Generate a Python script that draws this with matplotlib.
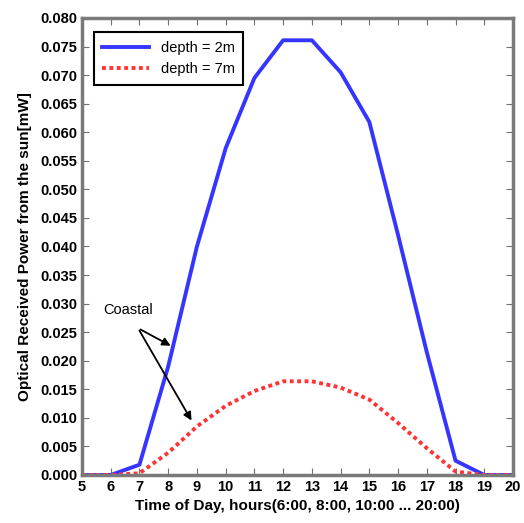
import matplotlib
matplotlib.use('Agg')
import matplotlib.pyplot as plt

# hours of the day and received power (mW) at two depths
hours = [5, 6, 7, 8, 9, 10, 11, 12, 13, 14, 15, 16, 17, 18, 19, 20]
power_2m = [0, 0, 0.0018, 0.019, 0.040, 0.0572, 0.0695, 0.0761, 0.0761,
            0.0705, 0.0618, 0.042, 0.0215, 0.0025, 0, 0]
power_7m = [0, 0, 0.0003, 0.0039, 0.0085, 0.0121, 0.0147, 0.0164, 0.0164,
            0.0153, 0.0132, 0.0091, 0.0047, 0.0006, 0, 0]

yticks = [i * 0.005 for i in range(17)]
xticks = list(range(5, 21))

plt.rcParams['font.family'] = ['Liberation Sans', 'DejaVu Sans']
plt.rcParams['font.weight'] = 'bold'

fig = plt.figure(figsize=(5.24, 5.23), dpi=100)
ax = fig.add_axes([0.1565, 0.0918, 0.8225, 0.8738])

ax.plot(hours, power_2m, color='#3535ff', lw=2.8, label='depth = 2m')
ax.plot(hours, power_7m, color='#ff3535', lw=2.8, ls=(0, (1.0, 0.9)),
        label='depth = 7m')

ax.set_xlim(5, 20)
ax.set_ylim(0, 0.08)
ax.set_xticks(xticks)
ax.set_yticks(yticks)
ax.set_yticklabels(['%.3f' % v for v in yticks])
ax.tick_params(direction='in', top=True, right=True, length=5,
               color='#707070', labelsize=10.5)
for s in ax.spines.values():
    s.set_color('#7a7a7a')
    s.set_linewidth(2.5)

ax.set_xlabel('Time of Day, hours(6:00, 8:00, 10:00 ... 20:00)',
              fontsize=11, fontweight='bold')
ax.set_ylabel('Optical Received Power from the sun[mW]',
              fontsize=11, fontweight='bold', labelpad=6)

# annotation arrows
ax.text(5.73, 0.0289, 'Coastal', fontsize=10.5, fontweight='normal',
        va='center')
arrow = dict(arrowstyle='-|>', color='black', lw=1.3, mutation_scale=12)
ax.annotate('', xy=(8.17, 0.0224), xytext=(6.95, 0.0257), arrowprops=arrow)
ax.annotate('', xy=(8.86, 0.0091), xytext=(6.95, 0.0257), arrowprops=arrow)

leg = ax.legend(loc='upper left', fontsize=10.5, fancybox=False,
                edgecolor='black', framealpha=1, handlelength=3.2,
                borderpad=0.6, bbox_to_anchor=(0.01, 0.985))
leg.get_frame().set_linewidth(1.5)
for t in leg.get_texts():
    t.set_fontweight('normal')

plt.savefig('out.png', dpi=100)
